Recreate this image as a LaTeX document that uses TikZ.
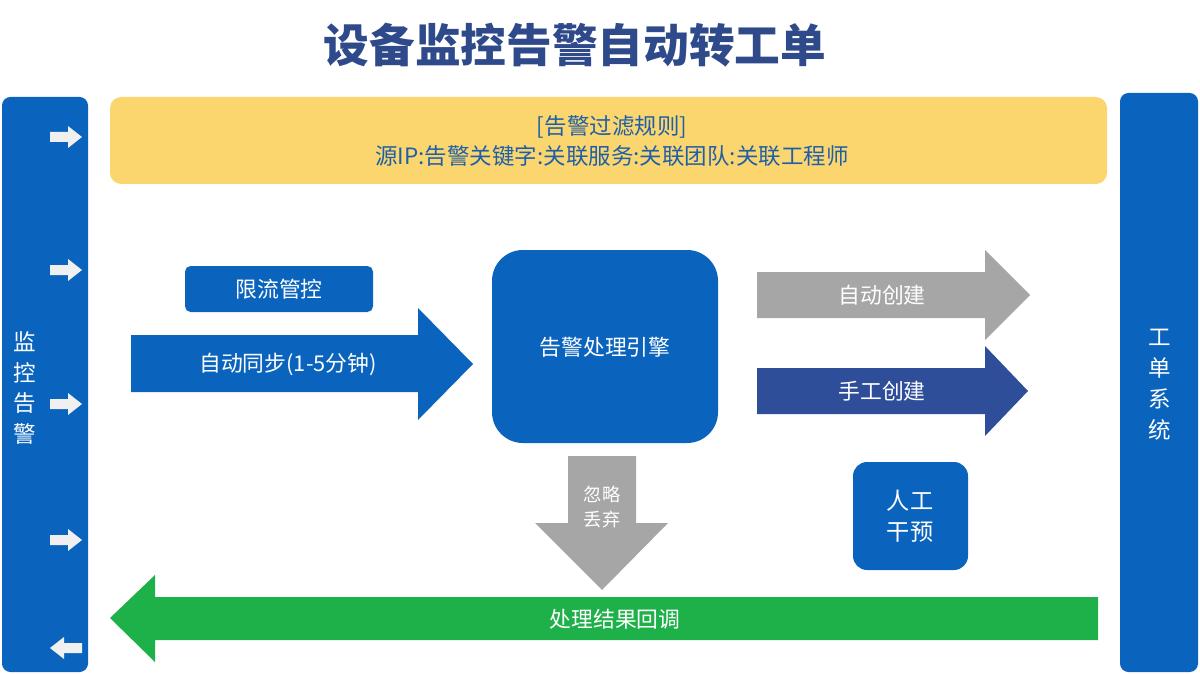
\documentclass[tikz,border=0pt]{standalone}
\usepackage{fontspec}
\setmainfont{Noto Sans CJK SC}
\begin{document}
\begin{tikzpicture}[x=0.025cm,y=-0.025cm,
  bl/.style={fill=blue1,draw=none},
  wt/.style={text=white,font=\fontsize{15.5}{19}\selectfont}]
\definecolor{blue1}{HTML}{0A64BE}
\definecolor{titleblue}{HTML}{2F4A8A}
\definecolor{ylw}{HTML}{FBD66E}
\definecolor{txtblue}{HTML}{1F5FA8}
\definecolor{gry}{HTML}{A6A6A6}
\definecolor{dblue}{HTML}{2F4E9A}
\definecolor{grn}{HTML}{1EB14A}
\useasboundingbox (0,0) rectangle (1200,675);
\fill[white] (0,0) rectangle (1200,675);
\node[text=titleblue,font=\fontsize{32.5}{38}\selectfont\bfseries] (title) at (575,45) {设备监控告警自动转工单};
% side bars
\fill[blue1,rounded corners=6] (2,97) rectangle (88,672);
\node[wt,align=center,font=\fontsize{16}{22}\selectfont] (lt) at (25,388) {监\\控\\告\\警};
\fill[blue1,rounded corners=6] (1120,93) rectangle (1198,672);
\node[wt,align=center,font=\fontsize{16}{22}\selectfont] (rt) at (1160,385) {工\\单\\系\\统};
\foreach \y in {137,270,404,540}{
  \fill[white!88!gray] (50,\y-5) -- (68,\y-5) -- (68,\y-11) -- (82,\y) -- (68,\y+11) -- (68,\y+5) -- (50,\y+5) -- cycle;}
\fill[white!88!gray] (82,643) -- (64,643) -- (64,637) -- (50,648) -- (64,659) -- (64,653) -- (82,653) -- cycle;
% yellow
\fill[ylw,rounded corners=8] (110,97) rectangle (1107,184);
\node[text=txtblue,font=\fontsize{16}{22}\selectfont,align=center] (rules) at (612,141) {[告警过滤规则]\\源IP:告警关键字:关联服务:关联团队:关联工程师};
% limit box
\fill[blue1,rounded corners=4] (185,266) rectangle (373,312);
\node[wt] (lim) at (279,289) {限流管控};
% sync arrow
\fill[blue1] (131,335) -- (418,335) -- (418,308) -- (473,364) -- (418,420) -- (418,392) -- (131,392) -- cycle;
\node[wt] (sync) at (288,364) {自动同步(1-5分钟)};
% engine
\fill[blue1,rounded corners=22] (492,250) rectangle (718,443);
\node[wt] (eng) at (605,347) {告警处理引擎};
% auto create
\fill[gry] (757,272) -- (985,272) -- (985,250) -- (1030,295) -- (985,340) -- (985,318) -- (757,318) -- cycle;
\node[wt] (auto) at (882,295) {自动创建};
\fill[dblue] (757,368) -- (985,368) -- (985,346) -- (1028,391) -- (985,436) -- (985,414) -- (757,414) -- cycle;
\node[wt] (man) at (882,391) {手工创建};
% down arrow
\fill[gry] (568,456) -- (636,456) -- (636,523) -- (668,523) -- (602,590) -- (535,523) -- (568,523) -- cycle;
\node[wt,align=center,font=\fontsize{13}{18}\selectfont] (ign) at (602,507) {忽略\\丢弃};
% manual intervene
\fill[blue1,rounded corners=10] (853,462) rectangle (968,570);
\node[wt,align=center,font=\fontsize{16.5}{22}\selectfont] (hum) at (910,516) {人工\\干预};
% green arrow
\fill[grn] (1098,597) -- (155,597) -- (155,575) -- (110,618) -- (155,662) -- (155,640) -- (1098,640) -- cycle;
\node[wt] (cb) at (615,619) {处理结果回调};
\end{tikzpicture}
\end{document}
